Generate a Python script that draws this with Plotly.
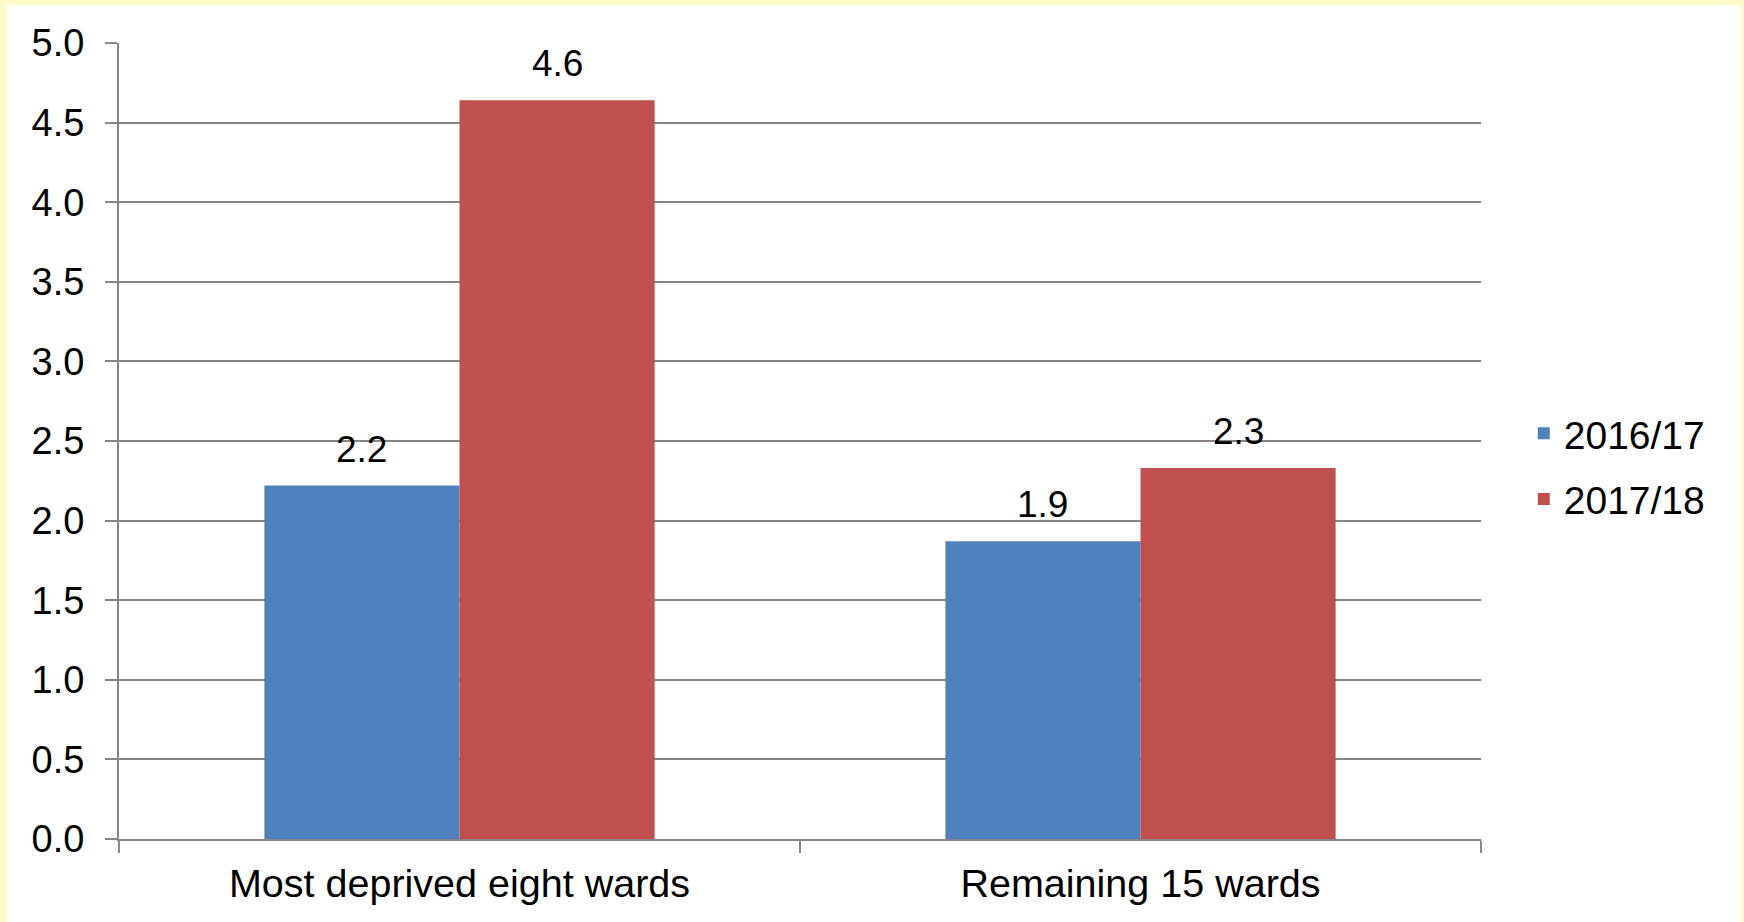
import plotly.graph_objects as go

categories = ["Most deprived eight wards", "Remaining 15 wards"]
series_names = ["2016/17", "2017/18"]
values_2016 = [2.22, 1.87]
values_2017 = [4.64, 2.33]
labels_2016 = ["2.2", "1.9"]
labels_2017 = ["4.6", "2.3"]
y_ticks = [0.0, 0.5, 1.0, 1.5, 2.0, 2.5, 3.0, 3.5, 4.0, 4.5, 5.0]

BLUE = "#4F81BD"
RED = "#C0504D"
GRID = "#868686"
FONT = "Liberation Sans, Arial, sans-serif"
PAGE_BG = "rgb(255,250,200)"

W, H = 1744, 922
L, R, T, B = 119, 263, 43, 83
plot_w = W - L - R
plot_h = H - T - B

fig = go.Figure()
fig.add_trace(go.Bar(name=series_names[0], x=categories, y=values_2016,
                     marker=dict(color=BLUE, line=dict(width=0)),
                     legendgroup="a"))
fig.add_trace(go.Bar(name=series_names[1], x=categories, y=values_2017,
                     marker=dict(color=RED, line=dict(width=0)),
                     legendgroup="b"))

bar_w_px = plot_w / len(categories) * (1 - 0.427) / 2
annotations = []
for vals, labs, sh in [(values_2016, labels_2016, -bar_w_px / 2), (values_2017, labels_2017, bar_w_px / 2)]:
    for c, v, lab in zip(categories, vals, labs):
        annotations.append(dict(x=c, y=v, xref="x", yref="y", text=lab, showarrow=False,
                                xshift=sh, yshift=14, yanchor="bottom",
                                font=dict(size=37, color="#000000", family=FONT)))

# page border: yellow paper with white panel
shapes = [dict(type="rect", xref="paper", yref="paper", layer="below",
               x0=(7 - L) / plot_w, x1=(1741 - L) / plot_w,
               y0=-0.3, y1=(H - B - 5) / plot_h,
               fillcolor="white", line=dict(width=0))]

fig.update_layout(
    width=W, height=H,
    margin=dict(l=L, r=R, t=T, b=B, pad=0),
    paper_bgcolor=PAGE_BG,
    plot_bgcolor="rgba(0,0,0,0)",
    barmode="group", bargap=0.427, bargroupgap=0,
    font=dict(family=FONT, color="#000000", size=36),
    shapes=shapes,
    annotations=annotations,
    legend=dict(x=1.0314, xanchor="left", y=0.468, yanchor="middle",
                font=dict(size=39, family=FONT), traceorder="grouped",
                tracegroupgap=12, bgcolor="rgba(0,0,0,0)", itemwidth=30),
    xaxis=dict(showgrid=False, showline=True, linecolor=GRID, linewidth=2,
               ticks="outside", tickson="boundaries", ticklen=12, tickcolor=GRID, tickwidth=1.5,
               tickfont=dict(size=39.5, family=FONT), ticklabelstandoff=9),
    yaxis=dict(range=[0, 5], tickvals=y_ticks, ticktext=[f"{t:.1f}" for t in y_ticks],
               showgrid=True, gridcolor=GRID, gridwidth=2,
               showline=True, linecolor=GRID, linewidth=2, zeroline=False,
               ticks="outside", ticklen=12, tickcolor=GRID, tickwidth=2,
               tickfont=dict(size=38, family=FONT), ticklabelstandoff=13),
)

fig.write_html("out.html", config={"displayModeBar": False},
               post_script="document.body.style.margin='0';document.body.style.overflow='hidden';"
                           "document.body.style.background='" + PAGE_BG + "';")
